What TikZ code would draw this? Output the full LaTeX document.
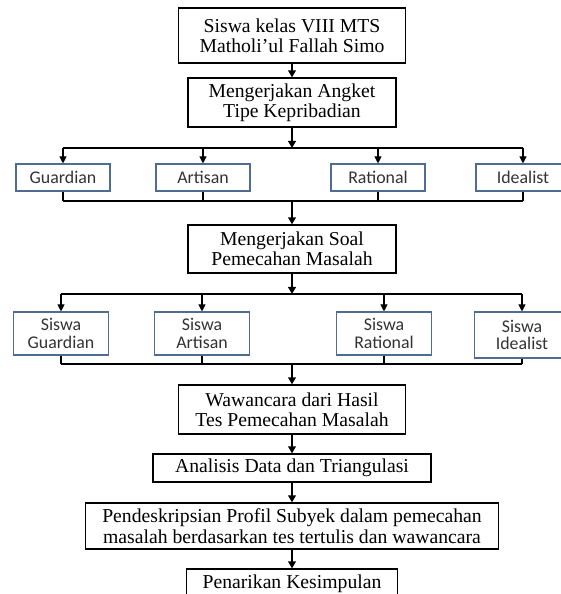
\documentclass[tikz,border=0pt]{standalone}
\usepackage{fontspec}
\setmainfont{Liberation Serif}
\newfontfamily\calibri{Carlito}
\usetikzlibrary{arrows.meta}
\definecolor{boxblue}{HTML}{4F6C92}

\begin{document}
\begin{tikzpicture}[x=0.025cm, y=-0.025cm,
    box/.style={draw=black, line width=0.9pt, align=center, inner sep=0pt, font=\fontsize{14}{14.5}\selectfont},
    tipebox/.style={draw=boxblue, line width=0.8pt, align=center, inner sep=0pt, text=black!80,
        minimum width=2.35cm, minimum height=0.675cm, font=\calibri\fontsize{12.7}{12.5}\selectfont},
    siswabox/.style={tipebox, minimum width=2.375cm, minimum height=1.075cm},
    arr/.style={-{Triangle[length=5pt,width=5.5pt]}, line width=1.4pt},
    tarr/.style={-{Triangle[length=5pt,width=5pt]}, line width=0.8pt},
    lin/.style={line width=0.8pt}]
            \useasboundingbox (0,0) rectangle (561,594);
            \clip (0,0) rectangle (561,594);
            \node[box, minimum width=5.675cm, minimum height=1.375cm] (siswa) at (292,35.5) {Siswa kelas VIII MTS\\Matholi’ul Fallah Simo};
            \node[box, minimum width=5.2cm, minimum height=1.225cm] (angket) at (292,102.5) {Mengerjakan Angket\\Tipe Kepribadian};
            \coordinate (j1) at (292,148);
            \node[tipebox] (guardian) at (63,177.5) {Guardian};
            \node[tipebox] (artisan) at (203,177.5) {Artisan};
            \node[tipebox] (rational) at (378,177.5) {Rational};
            \node[tipebox] (idealist) at (523,177.5) {Idealist};
            \coordinate (j2) at (292,201);
            \node[box, minimum width=5.2cm, minimum height=1.2cm] (soal) at (292,249) {Mengerjakan Soal\\Pemecahan Masalah};
            \coordinate (j3) at (292,294);
            \node[siswabox] (sguardian) at (61,333.5) {Siswa\\Guardian};
            \node[siswabox] (sartisan) at (202,333.5) {Siswa\\Artisan};
            \node[siswabox] (srational) at (384,333.5) {Siswa\\Rational};
            \node[siswabox, minimum height=1.15cm] (sidealist) at (522,335) {Siswa\\Idealist};
            \coordinate (j4) at (292,364);
            \node[box, minimum width=5.675cm, minimum height=1.225cm] (wawancara) at (292,409.5) {Wawancara dari Hasil\\Tes Pemecahan Masalah};
            \node[box, minimum width=6.95cm, minimum height=0.7cm] (analisis) at (292,468) {Analisis Data dan Triangulasi};
            \node[box, minimum width=10.325cm, minimum height=1.15cm] (profil) at (292,526) {Pendeskripsian Profil Subyek dalam pemecahan\\masalah berdasarkan tes tertulis dan wawancara};
            \node[box, minimum width=5.275cm, minimum height=0.75cm] (simpulan) at (292,584) {Penarikan Kesimpulan};
            \draw[arr] (siswa) -- (angket);
            \draw[arr] (angket) -- (j1);
            \draw[lin] (guardian.north |- j1) -- (idealist.north |- j1);
            \foreach \n in {guardian,artisan,rational,idealist}
                \draw[tarr] (\n.north |- j1) -- (\n);
            \foreach \n in {guardian,artisan,rational,idealist}
                \draw[lin] (\n) -- (\n.south |- j2);
            \draw[lin] (guardian.south |- j2) -- (idealist.south |- j2);
            \draw[arr] (j2) -- (soal);
            \draw[arr] (soal) -- (j3);
            \draw[lin] (sguardian.north |- j3) -- (sidealist.north |- j3);
            \foreach \n in {sguardian,sartisan,srational,sidealist}
                \draw[tarr] (\n.north |- j3) -- (\n);
            \foreach \n in {sguardian,sartisan,srational,sidealist}
                \draw[lin] (\n) -- (\n.south |- j4);
            \draw[lin] (sguardian.south |- j4) -- (sidealist.south |- j4);
            \draw[arr] (j4) -- (wawancara);
            \draw[arr] (wawancara) -- (analisis);
            \draw[arr] (analisis) -- (profil);
            \draw[arr] (profil) -- (simpulan);
        \end{tikzpicture}
\end{document}
